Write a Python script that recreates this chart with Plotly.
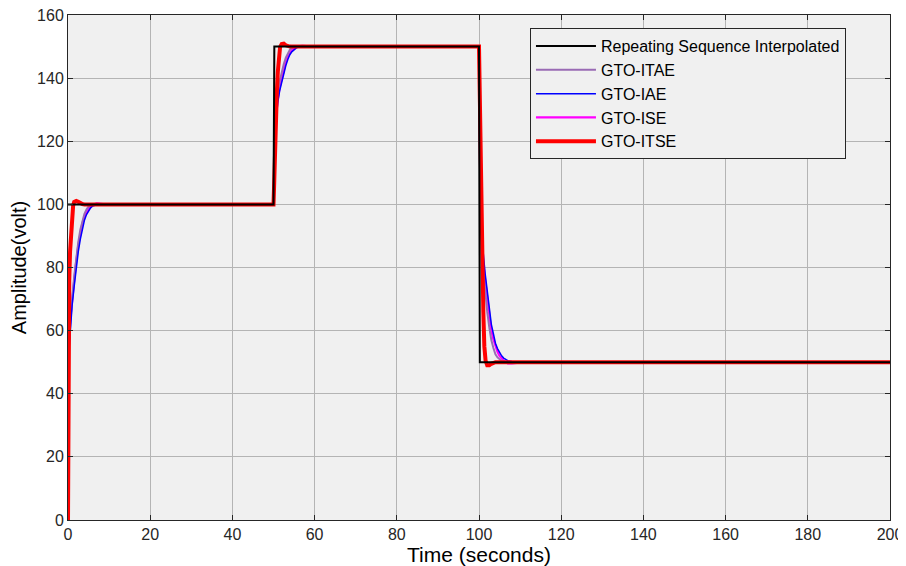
import plotly.graph_objects as go

# Reference (Repeating Sequence Interpolated)
ref_t = [0, 50, 50.2, 100, 100.2, 200]
ref_y = [100, 100, 150, 150, 50, 50]

# GTO-ITAE
itae_t = [0, 0.05, 0.15, 0.3, 0.6, 1, 1.5, 2, 2.5, 3, 3.5, 4, 4.5, 5, 5.5, 6, 50, 50.1, 50.2, 50.4, 50.6, 51, 51.5, 52, 52.5, 53, 53.5, 54, 54.5, 55, 56,
          100, 100.15, 100.3, 100.6, 101, 101.5, 102, 102.5, 103, 103.5, 104, 104.5, 105, 105.5, 106, 107, 108, 200]
itae_y = [0, 30, 47, 57, 64, 70, 77, 83, 88, 92, 95, 97, 98.4, 99.3, 99.8, 100, 100, 110, 118, 124, 128, 135, 139, 142, 144.5, 146.5, 148, 149, 149.6, 150, 150,
          150, 125, 108, 92, 80, 72, 66, 61, 57, 54.5, 52.5, 51.5, 50.8, 50.4, 50.2, 50.05, 50, 50]

# GTO-IAE
iae_t = [0, 0.05, 0.15, 0.3, 0.6, 1, 1.5, 2, 2.5, 3, 3.5, 4, 4.5, 5, 5.5, 6, 7, 8, 50, 50.1, 50.2, 50.4, 50.6, 51, 51.5, 52, 52.5, 53, 53.5, 54, 54.5, 55, 55.5, 56, 57, 58,
         100, 100.15, 100.3, 100.6, 101, 101.5, 102, 102.5, 103, 103.5, 104, 104.5, 105, 105.5, 106, 107, 108, 109, 112, 200]
iae_y = [0, 30, 45, 55, 62, 68, 74, 80, 85, 89, 92.5, 95, 96.8, 98, 98.9, 99.5, 99.9, 100, 100, 108, 116, 122, 126, 132, 136, 139, 141.8, 144, 146, 147.5, 148.4, 149, 149.5, 149.8, 150, 150,
         150, 128, 112, 96, 85, 78, 72, 67, 62, 59, 56, 54.3, 53, 52, 51.3, 50.5, 50.2, 50.1, 50, 50]

# GTO-ISE
ise_t = [0, 0.05, 0.1, 0.2, 0.5, 1, 1.5, 2, 2.5, 3, 3.5, 4, 4.5, 5, 5.5, 6, 6.5, 7, 7.5, 8, 9, 10, 50, 50.1, 50.2, 50.4, 50.6, 51, 51.5, 52, 52.5, 53, 53.5, 54, 54.5, 55, 56, 57, 58, 60,
         100, 100.15, 100.3, 100.6, 101, 101.5, 102, 102.5, 103, 103.5, 104, 104.5, 105, 105.5, 106, 106.5, 107, 108, 109, 111, 200]
ise_y = [0, 35, 47, 55, 63, 70, 76, 82, 87, 91, 94, 96, 97.5, 98.5, 99.2, 99.8, 100.1, 100.3, 100.35, 100.2, 100.05, 100, 100, 109, 117, 123, 127, 133, 137, 140, 142.8, 145, 146.8, 148, 148.9, 149.5, 150.1, 150.2, 150.1, 150,
         150, 125, 108, 92, 82, 76, 70, 65, 60, 57.3, 55, 53.3, 52, 51.1, 50.5, 50, 49.6, 49.6, 49.8, 50, 50]

# GTO-ITSE
itse_t = [0, 0.03, 0.06, 0.1, 0.3, 0.5, 0.75, 1, 1.25, 1.5, 2, 2.5, 3, 3.5, 4, 50, 50.15, 50.3, 50.55, 50.8, 51.05, 51.3, 51.6, 52, 52.5, 53, 53.5, 54,
          100, 100.15, 100.3, 100.55, 100.8, 101.05, 101.3, 101.6, 102, 102.5, 103, 103.5, 104, 200]
itse_y = [0, 30, 50, 63, 76, 85, 92, 97, 99.6, 100.8, 101.1, 100.8, 100.3, 100.1, 100, 100, 106, 115, 126, 135, 142, 147, 149.8, 150.8, 150.9, 150.4, 150.1, 150,
          150, 135, 120, 98, 80, 66, 55, 50.5, 49, 49, 49.5, 49.9, 50, 50]

fig = go.Figure()
fig.add_trace(go.Scatter(x=ise_t, y=ise_y, mode="lines", name="GTO-ISE",
                         line=dict(color="#ff00ff", width=2.2), legendrank=4))
fig.add_trace(go.Scatter(x=itae_t, y=itae_y, mode="lines", name="GTO-ITAE",
                         line=dict(color="#9a6bb5", width=2), legendrank=2))
fig.add_trace(go.Scatter(x=iae_t, y=iae_y, mode="lines", name="GTO-IAE",
                         line=dict(color="#0000ff", width=1.5), legendrank=3))
fig.add_trace(go.Scatter(x=itse_t, y=itse_y, mode="lines", name="GTO-ITSE",
                         line=dict(color="#ff0000", width=4), legendrank=5))
fig.add_trace(go.Scatter(x=ref_t, y=ref_y, mode="lines", name="Repeating Sequence Interpolated",
                         line=dict(color="#000000", width=2), legendrank=1))

FONT = "Liberation Sans, Arial, sans-serif"
axis_common = dict(
    showline=True, linecolor="#262626", linewidth=1, mirror="ticks",
    showgrid=True, gridcolor="#b4b4b4", gridwidth=1,
    ticks="inside", ticklen=5, tickcolor="#262626",
    tickfont=dict(family=FONT, size=16, color="#262626"),
    ticklabeloverflow="allow",
    zeroline=False, automargin=False,
)

# page body adds an 8px offset, so the figure is sized to fit inside the window
fig.update_layout(
    width=898, height=558,
    margin=dict(l=60, r=16, t=7, b=46),
    paper_bgcolor="white", plot_bgcolor="#f0f0f0",
    font=dict(family=FONT, color="#262626"),
    xaxis=dict(range=[0, 200], tickvals=list(range(0, 201, 20)),
               title=dict(text="Time (seconds)", font=dict(size=21, color="#000000"), standoff=0),
               **axis_common),
    yaxis=dict(range=[0, 160], tickvals=list(range(0, 161, 20)),
               title=dict(text="Amplitude(volt)", font=dict(size=20, color="#000000"), standoff=6),
               **axis_common),
    legend=dict(x=0.562, y=0.974, xanchor="left", yanchor="top",
                bgcolor="#f0f0f0", bordercolor="#262626", borderwidth=1,
                font=dict(family=FONT, size=16, color="#000000"),
                itemwidth=60, tracegroupgap=0, entrywidth=327, entrywidthmode="pixels"),
    showlegend=True,
)

fig.write_html("out.html")
